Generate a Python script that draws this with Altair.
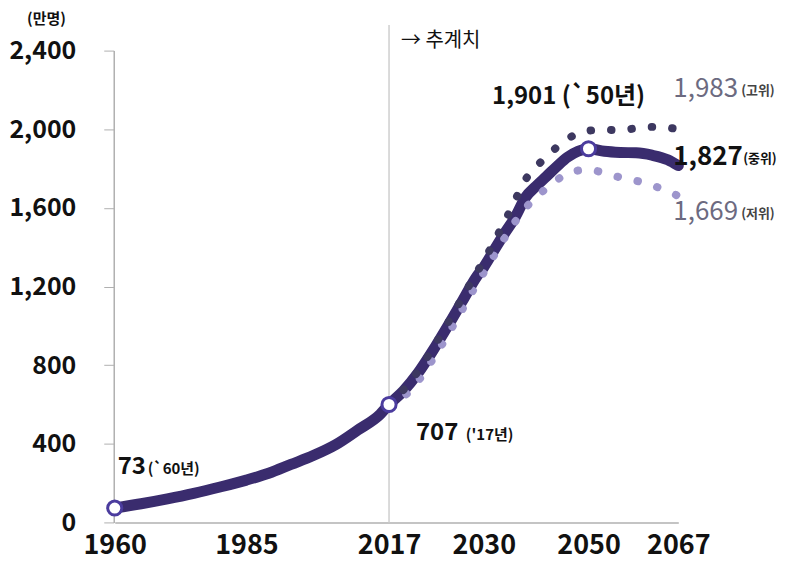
import altair as alt
import pandas as pd

# ---- data ----
med_years = [1960, 1965, 1970, 1975, 1980, 1985, 1990, 1995, 2000, 2005, 2010, 2015, 2017,
             2019, 2021, 2023, 2025, 2027, 2029, 2030, 2032, 2034, 2036, 2038, 2040,
             2042, 2044, 2046, 2048, 2050, 2053, 2056, 2059, 2062, 2065, 2067]
med_vals = [73, 95, 120, 148, 180, 215, 250, 295, 340, 395, 470, 550, 600,
            670, 761, 873, 995, 1122, 1249, 1299, 1386, 1472, 1553, 1655, 1711,
            1761, 1812, 1858, 1888, 1901, 1888, 1882, 1880, 1868, 1845, 1815]

high_years = [2017, 2019, 2021, 2023, 2025, 2027, 2029, 2030, 2032, 2034, 2036, 2038,
              2040, 2042, 2044, 2046, 2048, 2050, 2053, 2056, 2059, 2062, 2065, 2067]
high_vals = [600, 675, 770, 885, 1010, 1140, 1270, 1330, 1430, 1530, 1640, 1745,
             1810, 1860, 1910, 1950, 1980, 1993, 1997, 1995, 2005, 2012, 2008, 2000]

low_years = [2017, 2019, 2021, 2023, 2025, 2027, 2029, 2031, 2033, 2036, 2039, 2042,
             2045, 2048, 2050, 2053, 2056, 2059, 2062, 2065, 2067]
low_vals = [600, 640, 720, 830, 950, 1080, 1210, 1315, 1405, 1530, 1630, 1700,
            1760, 1790, 1795, 1777, 1755, 1738, 1715, 1685, 1660]

marker_years = [1960, 2017, 2050]
marker_vals = [73, 600, 1901]

tick_years = [1960, 1985, 2017, 2030, 2050, 2067]
y_ticks = [0, 400, 800, 1200, 1600, 2000, 2400]

FONT = "Noto Sans CJK KR"
W, H = 566, 473

xs = alt.Scale(domain=tick_years, range=[1, 133, 276, 371, 476, 566])
ys = alt.Scale(domain=[0, 2400])

x_axis = alt.Axis(
    values=tick_years, format="d", title=None, grid=False, ticks=False,
    labelFont=FONT, labelFontSize=27, labelFontWeight="bold", labelColor="#111",
    labelPadding=10, labelOverlap=False, labelFlush=False,
    domainColor="#b0b0b0", domainWidth=1.5)
y_axis = alt.Axis(
    values=y_ticks, format=",.0f", title="(만명)", grid=False,
    labelFont=FONT, labelFontSize=25, labelFontWeight="bold", labelColor="#111",
    labelPadding=28, tickSize=10, tickColor="#b0b0b0", domainColor="#b0b0b0",
    domainWidth=1.5,
    titleAngle=0, titleFont=FONT, titleFontSize=15, titleFontWeight="bold",
    titleColor="#111", titleX=-68, titleY=-32, titleAlign="center",
    titleBaseline="middle")

X = alt.X("x:Q", scale=xs, axis=x_axis)
Y = alt.Y("y:Q", scale=ys, axis=y_axis)

def frame(xv, yv):
    return pd.DataFrame({"x": xv, "y": yv})

median = alt.Chart(frame(med_years, med_vals)).mark_line(
    color="#3a2c6e", strokeWidth=11, interpolate="monotone", strokeCap="round"
).encode(x=X, y=Y)

rule = alt.Chart(pd.DataFrame({"x": [2017], "y": [0], "y2": [2530]})).mark_rule(
    color="#cfcfcf", strokeWidth=1.5
).encode(x=X, y=Y, y2="y2:Q")

low = alt.Chart(frame(low_years, low_vals)).mark_line(
    color="#9d95cc", strokeWidth=8, strokeDash=[0.5, 20], strokeCap="round",
    interpolate="monotone"
).encode(x=X, y=Y)

high = alt.Chart(frame(high_years, high_vals)).mark_line(
    color="#3d3860", strokeWidth=8, strokeDash=[0.5, 20], strokeCap="round",
    interpolate="monotone"
).encode(x=X, y=Y)

markers = alt.Chart(frame(marker_years, marker_vals)).mark_point(
    shape="circle", filled=True, fill="white", stroke="#4b3c9e", strokeWidth=3,
    size=200, opacity=1
).encode(x=X, y=Y)

def label(xv, yv, text, size, weight="bold", color="#111", dx=0, dy=0, align="left"):
    return alt.Chart(pd.DataFrame({"x": [xv], "y": [yv], "t": [text]})).mark_text(
        font=FONT, fontSize=size, fontWeight=weight, color=color, dx=dx, dy=dy,
        align=align, baseline="middle"
    ).encode(x=X, y=Y, text="t:N")

labels = [
    label(2017, 2451, "→ 추계치", 20, weight="normal", dx=12),
    label(2050, 2162, "1,901 (`50년)", 24, dx=-20, align="center"),
    label(2067, 2207, "1,983", 26, weight="normal", color="#6c6a80", dx=-5),
    label(2067, 2207, "(고위)", 13, color="#444", dx=63, dy=2),
    label(2067, 1857, "1,827", 26, dx=-5),
    label(2067, 1857, "(중위)", 13, dx=65, dy=2),
    label(2067, 1578, "1,669", 26, weight="normal", color="#6c6a80", dx=-5),
    label(2067, 1578, "(저위)", 13, color="#444", dx=63, dy=2),
    label(2017, 457, "707", 24, dx=27),
    label(2017, 457, "('17년)", 15, dx=77, dy=2),
    label(1960, 284, "73", 24, dx=3),
    label(1960, 284, "(`60년)", 15, dx=33, dy=2),
]

chart = alt.layer(rule, median, low, high, markers, *labels).properties(
    width=W, height=H,
    autosize=alt.AutoSizeParams(type="none"),
    padding={"left": 106, "top": 42, "right": 117, "bottom": 50},
    background="white",
).configure_view(stroke=None)

chart.save("out.html", embed_options={"renderer": "svg", "actions": False})
